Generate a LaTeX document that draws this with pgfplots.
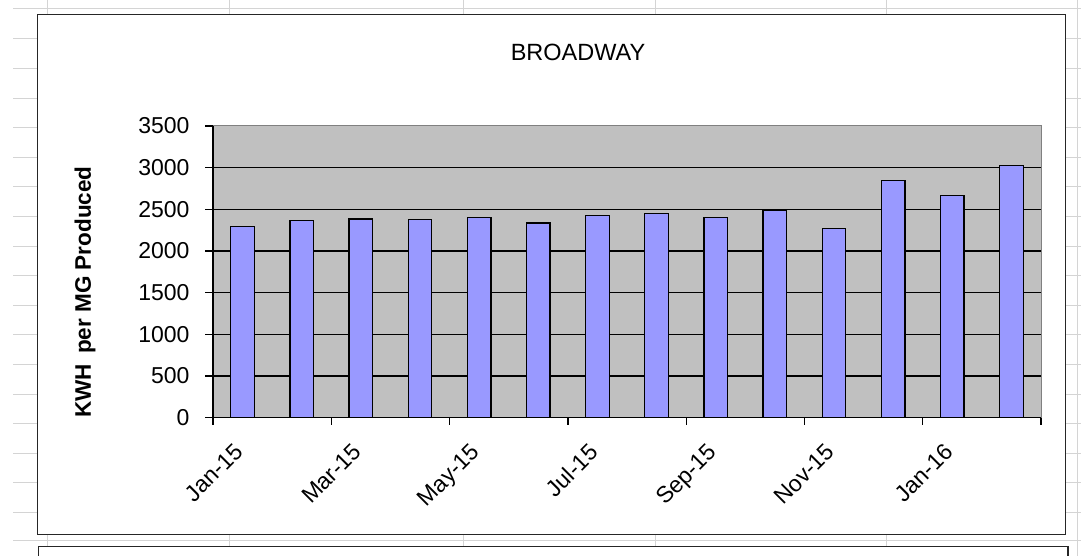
\documentclass[border=0pt]{standalone}
\usepackage{pgfplots}
\pgfplotsset{compat=1.18}
\usepackage{fontspec}
\setmainfont{Liberation Sans}
\definecolor{barblue}{HTML}{9999FF}
\definecolor{plotgray}{HTML}{C0C0C0}
\definecolor{sheetgrid}{HTML}{D4D4D4}
\begin{document}
\begin{tikzpicture}
\useasboundingbox (0,0) rectangle (1081pt,556pt);
\begin{scope}[x=1pt,y=-1pt,yshift=556pt]
  % spreadsheet background grid
  \draw[sheetgrid,line width=1pt] (13,9) -- (1081,9);
  \foreach \xx in {47,229,463,655,886} {\draw[sheetgrid,line width=1pt] (\xx,0) -- (\xx,15);}
  \foreach \yy in {39,68.6,98.2,127.8,157.4,187,216.6,246.2,275.8,305.4,335,364.6,394.2,423.8,453.4,483,512.6} {
    \draw[sheetgrid,line width=1pt] (13,\yy) -- (38,\yy);
    \draw[sheetgrid,line width=1pt] (1066,\yy) -- (1081,\yy);
  }
  \draw[sheetgrid,line width=1pt] (1077,0) -- (1077,556);
  \draw[sheetgrid,line width=1pt] (13,541) -- (1081,541);
  \foreach \xx in {47,229,463,655,886} {\draw[sheetgrid,line width=1pt] (\xx,534) -- (\xx,546);}
  % chart frames
  \draw[black!85,line width=1.3pt,fill=white] (37.5,14.5) rectangle (1065.7,534.5);
  \draw[black!85,line width=1.3pt,fill=white] (38.5,546.5) -- (1068,546.5) -- (1068,560);
  \draw[black!85,line width=1.3pt] (38.5,546.5) -- (38.5,560);
  % title
  \node[font=\fontsize{23.5}{28}\selectfont] at (578,52) {BROADWAY};
  % y label
  \node[font=\fontsize{22.5}{27}\selectfont\bfseries,rotate=90] at (85,292) {KWH\, per MG Produced};
\end{scope}
\begin{axis}[
  at={(213pt,138.3pt)}, anchor=south west,
  scale only axis, width=828pt, height=291.7pt,
  xmin=0, xmax=14, ymin=0, ymax=3500,
  axis x line*=bottom, axis y line*=left,
  axis line style={black, line width=1.4pt},
  axis background/.style={fill=plotgray},
  ytick={0,500,...,3000},
  extra y ticks={3500},
  extra y tick style={grid=none},
  ymajorgrids,
  major grid style={black, line width=1.6pt},
  xtick={0.5,2.5,4.5,6.5,8.5,10.5,12.5},
  xticklabels={Jan-15,Mar-15,May-15,Jul-15,Sep-15,Nov-15,Jan-16},
  minor xtick={0,2,...,14},
  tick align=outside,
  x tick style={draw=none},
  minor x tick style={draw=black, line width=1.3pt},
  minor tick length=7pt,
  y tick style={black, line width=1.3pt},
  major tick length=8pt,
  /pgf/number format/assume math mode=true,
  /pgf/number format/set thousands separator={},
  yticklabel style={font=\fontsize{23}{27}\selectfont, xshift=-12pt},
  xticklabel style={font=\fontsize{23}{27}\selectfont, rotate=45, anchor=north east, yshift=-1.5pt, xshift=-14.7pt},
  clip=false,
]
\addplot[ybar, bar width=0.4, fill=barblue, draw=black, line width=1.3pt] coordinates {
  (0.5,2290) (1.5,2365) (2.5,2385) (3.5,2380) (4.5,2405) (5.5,2335) (6.5,2425)
  (7.5,2450) (8.5,2405) (9.5,2490) (10.5,2270) (11.5,2850) (12.5,2670) (13.5,3030)
};
\draw[gray, line width=1pt] (rel axis cs:0,1) -- (rel axis cs:1,1) -- (rel axis cs:1,0);
\end{axis}
\end{tikzpicture}
\end{document}
